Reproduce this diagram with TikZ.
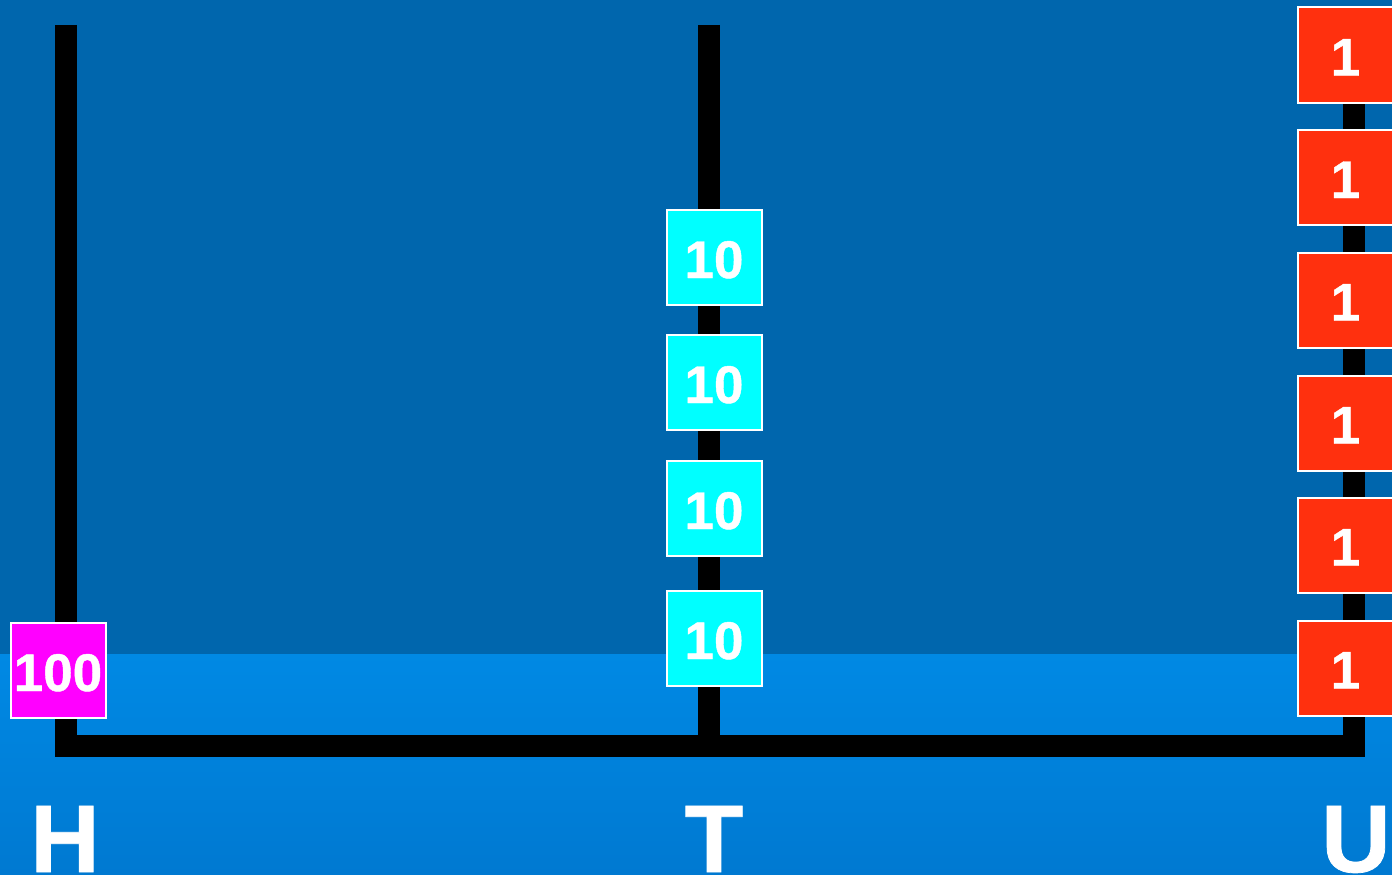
\documentclass[tikz,border=0pt]{standalone}
\usepackage{fontspec}
\setmainfont{Liberation Sans}[BoldFeatures={FakeBold=0.8}]
\definecolor{bgdark}{RGB}{0,102,173}
\definecolor{bgtop}{RGB}{0,137,228}
\definecolor{bgbot}{RGB}{0,121,209}
\definecolor{hund}{RGB}{255,0,255}
\definecolor{tens}{RGB}{0,255,255}
\definecolor{ones}{RGB}{255,48,14}
\begin{document}
\begin{tikzpicture}[x=1pt,y=-1pt,
  rod/.style={line width=22pt,black,line join=miter},
  box/.style={draw=white,line width=2pt,minimum size=95pt,inner sep=0pt,
    text height=41pt,text depth=0pt,text=white,
    font=\fontsize{53}{53}\selectfont\bfseries},
  collabel/.style={anchor=base,text=white,inner sep=0pt,
    font=\fontsize{96}{96}\selectfont\bfseries}]
\useasboundingbox (0,0) rectangle (1392,875);
\clip (0,0) rectangle (1392,875);
\fill[bgdark] (0,0) rectangle (1392,654);
\shade[top color=bgtop,bottom color=bgbot] (0,654) rectangle (1392,875);
% rods
\coordinate (hTop) at (66,25);
\coordinate (hBot) at (66,746);
\coordinate (tTop) at (709,25);
\coordinate (tBot) at (709,746);
\coordinate (uTop) at (1354,25);
\coordinate (uBot) at (1354,746);
\draw[rod] (hTop) -- (hBot) -- (uBot) -- (uTop);
\draw[rod] (tTop) -- (tBot);
% hundreds
\node[box,fill=hund] (h1) at (58,670.5) {100};
% tens
\node[box,fill=tens] (t1) at (714,257.5) {10};
\node[box,fill=tens] (t2) at (714,382.5) {10};
\node[box,fill=tens] (t3) at (714,508.5) {10};
\node[box,fill=tens] (t4) at (714,638.5) {10};
% ones
\node[box,fill=ones] (u1) at (1345.5,55) {1};
\node[box,fill=ones] (u2) at (1345.5,177.5) {1};
\node[box,fill=ones] (u3) at (1345.5,300) {1};
\node[box,fill=ones] (u4) at (1345.5,423) {1};
\node[box,fill=ones] (u5) at (1345.5,545) {1};
\node[box,fill=ones] (u6) at (1345.5,668) {1};
% labels
\node[collabel] (lH) at (65,872) {H};
\node[collabel] (lT) at (714,872) {T};
\node[collabel] (lU) at (1356,872) {U};
\end{tikzpicture}
\end{document}
